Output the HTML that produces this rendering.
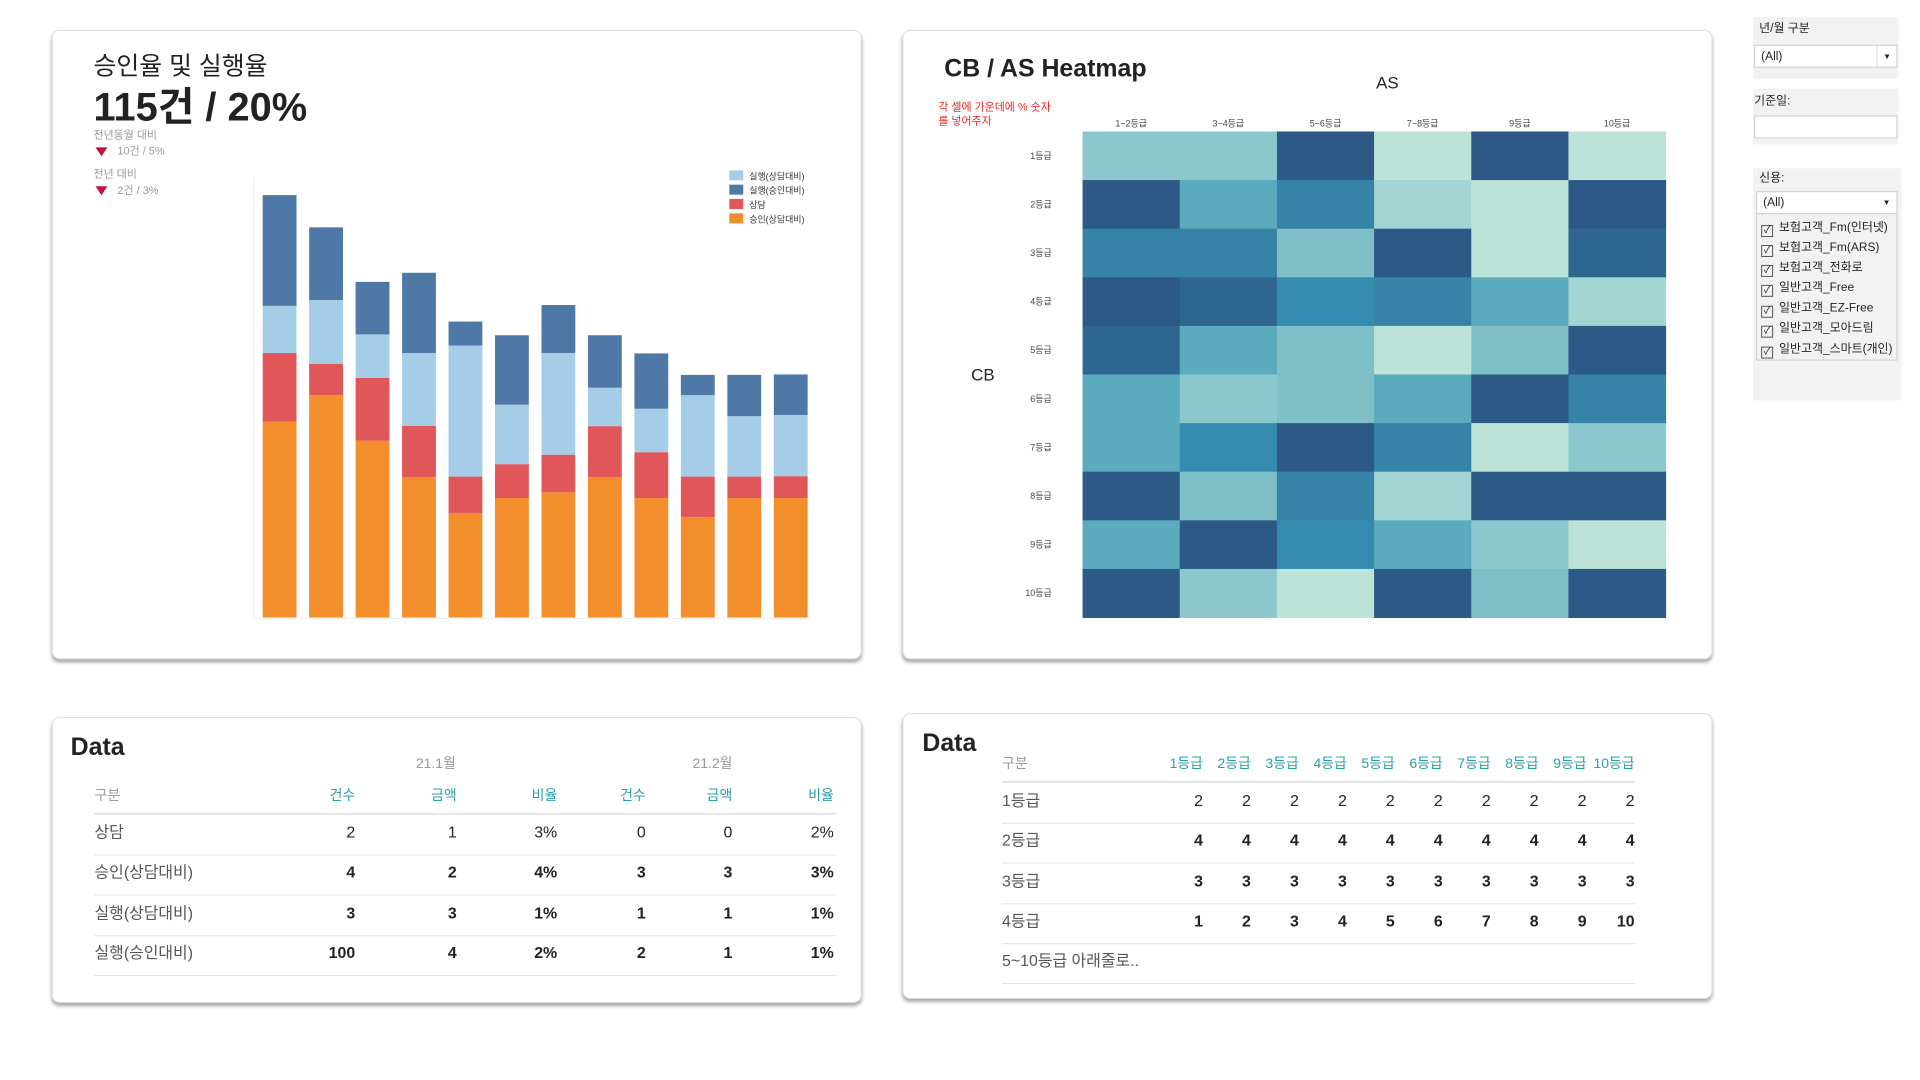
<!DOCTYPE html>
<html><head><meta charset="utf-8">
<style>
*{box-sizing:border-box;margin:0;padding:0}
body{width:1920px;height:1080px;background:#fff;position:relative;overflow:hidden;font-family:"Liberation Sans","Noto Sans CJK KR",sans-serif;color:#222}
#wrap{position:absolute;left:0;top:0;width:1920px;height:1080px;transform:scale(0.995,0.996);transform-origin:0 0}
.card{position:absolute;background:#fff;border:1px solid #ddd;border-radius:8px;box-shadow:0 3px 4px rgba(0,0,0,.35)}
.abs{position:absolute;white-space:nowrap;line-height:1.15}
.gray{color:#999}
.hl{position:absolute;height:1px;background:#e2e2e2}
.num{position:absolute;text-align:right;width:60px;font-size:16px;color:#222;line-height:1.15}
.panel{position:absolute;background:#f2f2f2;left:1762px;width:146px}
.sel{position:absolute;background:#fff;border:1px solid #ccc;font-size:12px;padding:3px 6px}
.chk{position:absolute;left:1770px;font-size:12px;color:#222;line-height:14px}
.chk span{display:inline-block;width:12px;height:12px;border:1px solid #555;margin-right:6px;vertical-align:-2px;font-size:10px;line-height:10px;text-align:center}
</style></head><body>
<div id="wrap">

<div class="card" style="left:52px;top:30px;width:814px;height:632px"></div>
<div class="abs" style="left:94px;top:53px;font-size:25px">승인율 및 실행율</div>
<div class="abs" style="left:94px;top:88px;font-size:40px;font-weight:bold;line-height:1">115건 / 20%</div>
<div class="abs gray" style="left:94px;top:130px;font-size:11px">전년동월 대비</div>
<div class="abs" style="left:96px;top:148px;width:0;height:0;border-left:6px solid transparent;border-right:6px solid transparent;border-top:9px solid #c0143c"></div>
<div class="abs gray" style="left:118px;top:146px;font-size:11px">10건 / 5%</div>
<div class="abs gray" style="left:94px;top:169px;font-size:11px">전년 대비</div>
<div class="abs" style="left:96px;top:187px;width:0;height:0;border-left:6px solid transparent;border-right:6px solid transparent;border-top:9px solid #c0143c"></div>
<div class="abs gray" style="left:118px;top:186px;font-size:11px">2건 / 3%</div>
<svg id="bars" style="position:absolute;left:0;top:0" width="870" height="660"></svg>

<div class="card" style="left:907px;top:30px;width:814px;height:632px"></div>
<div class="abs" style="left:949px;top:55px;font-size:25px;font-weight:bold">CB / AS Heatmap</div>
<div class="abs" style="left:1383px;top:74px;font-size:17px">AS</div>
<div class="abs" style="left:943px;top:101px;font-size:11px;color:#f02020;line-height:14px">각 셀에 가운데에 % 숫자<br>를 넣어주자</div>
<div class="abs" style="left:976px;top:367px;font-size:17px">CB</div>
<svg id="heat" style="position:absolute;left:0;top:0" width="1720" height="660"></svg>

<div class="card" style="left:52px;top:720px;width:814px;height:287px"></div>
<div class="abs" style="left:71px;top:736px;font-size:25px;font-weight:bold">Data</div>
<div class="abs gray" style="left:418px;top:758px;font-size:14px">21.1월</div>
<div class="abs gray" style="left:696px;top:758px;font-size:14px">21.2월</div>
<div id="t1"></div>

<div class="card" style="left:907px;top:716px;width:814px;height:287px"></div>
<div class="abs" style="left:927px;top:732px;font-size:25px;font-weight:bold">Data</div>
<div id="t2"></div>

<div class="panel" style="top:17px;height:62px"></div>
<div class="abs" style="left:1768px;top:22px;font-size:12px">년/월 구분</div>
<div class="sel" style="left:1763px;top:45px;width:144px;height:23px">(All)<span style="position:absolute;right:0;top:0;width:20px;height:21px;border-left:1px solid #ddd;text-align:center;font-size:8px;line-height:21px">▼</span></div>
<div class="panel" style="top:89px;height:56px"></div>
<div class="abs" style="left:1763px;top:95px;font-size:12px">기준일:</div>
<div class="sel" style="left:1763px;top:116px;width:144px;height:23px"></div>
<div class="panel" style="top:169px;height:233px;width:149px"></div>
<div class="abs" style="left:1768px;top:172px;font-size:12px">신용:</div>
<div class="sel" style="left:1765px;top:192px;width:142px;height:23px">(All)<span style="position:absolute;right:0;top:0;width:20px;height:21px;text-align:center;font-size:8px;line-height:21px">▼</span></div>
<div class="abs" style="left:1765px;top:214px;width:142px;height:148px;border:1px solid #ccc;border-top:none"></div>
<div class="chk" style="top:221px"><span>✓</span>보험고객_Fm(인터넷)</div>
<div class="chk" style="top:241px"><span>✓</span>보험고객_Fm(ARS)</div>
<div class="chk" style="top:261px"><span>✓</span>보험고객_전화로</div>
<div class="chk" style="top:281px"><span>✓</span>일반고객_Free</div>
<div class="chk" style="top:302px"><span>✓</span>일반고객_EZ-Free</div>
<div class="chk" style="top:322px"><span>✓</span>일반고객_모아드림</div>
<div class="chk" style="top:343px"><span>✓</span>일반고객_스마트(개인)</div>
</div>

<script>
const barCategories = ["1","2","3","4","5","6","7","8","9","10","11","12"];
const approvalVals = [47.4,53.8,42.8,34.0,25.3,28.9,30.3,34.0,28.9,24.3,28.9,28.9];
const consultVals  = [16.6,7.6,15.2,12.4,8.8,8.2,9.1,12.3,11.1,9.8,5.2,5.3];
const execConsultVals = [11.4,15.4,10.5,17.6,31.7,14.4,24.6,9.3,10.5,19.7,14.6,14.8];
const execApprovalVals = [26.8,17.6,12.7,19.4,5.8,16.8,11.6,12.7,13.4,4.9,10.0,9.8];
const seriesNames = ["실행(상담대비)","실행(승인대비)","상담","승인(상담대비)"];
const seriesColors = ["#a6cde8","#4e79a7","#e15759","#f28e2b"];

const NS="http://www.w3.org/2000/svg";
function mk(tag,attrs,parent){const e=document.createElementNS(NS,tag);for(const k in attrs)e.setAttribute(k,attrs[k]);parent.appendChild(e);return e;}

(function(){
  const svg=document.getElementById('bars');
  const x0=264, step=46.7, bw=34, base=620, unit=4.15;
  const xPos=i=>x0+i*step;
  const yLen=v=>v*unit;
  mk('line',{x1:255,y1:178,x2:255,y2:621,stroke:'#eee'},svg);
  mk('line',{x1:255,y1:621,x2:815,y2:621,stroke:'#eee'},svg);
  const stack=[approvalVals,consultVals,execConsultVals,execApprovalVals];
  const cols=["#f28e2b","#e15759","#a6cde8","#4e79a7"];
  const names=["approval","consult","exec-consult","exec-approval"];
  barCategories.forEach((c,i)=>{
    let y=base;
    stack.forEach((arr,s)=>{
      const h=yLen(arr[i]); y-=h;
      const r=mk('rect',{x:xPos(i),y:y,width:bw,height:h,fill:cols[s]},svg);
      
      
    });
  });
  seriesNames.forEach((n,k)=>{
    const g=mk('g',{},svg);
    
    
    mk('rect',{x:733,y:171+k*14.4,width:14,height:10,fill:seriesColors[k]},g);
    const t=mk('text',{x:753,y:180+k*14.4,'font-size':9,fill:'#333'},g);
    t.textContent=n;
  });
})();

const asLabels=["1~2등급","3~4등급","5~6등급","7~8등급","9등급","10등급"];
const cbLabels=["1등급","2등급","3등급","4등급","5등급","6등급","7등급","8등급","9등급","10등급"];
const heatRow1=[40,40,95,10,95,10];
const heatRow2=[95,55,75,20,10,95];
const heatRow3=[75,75,45,95,10,85];
const heatRow4=[95,85,70,75,55,20];
const heatRow5=[85,55,45,10,45,95];
const heatRow6=[55,40,45,55,95,75];
const heatRow7=[55,70,95,75,10,40];
const heatRow8=[95,45,75,20,95,95];
const heatRow9=[55,95,70,55,40,10];
const heatRow10=[95,40,10,95,45,95];
const heatValues=[heatRow1,heatRow2,heatRow3,heatRow4,heatRow5,heatRow6,heatRow7,heatRow8,heatRow9,heatRow10];

(function(){
  const svg=document.getElementById('heat');
  const stops=[[10,[189,227,216]],[20,[163,213,210]],[40,[140,199,206]],[45,[127,191,199]],[55,[90,171,189]],[70,[53,138,175]],[75,[53,131,166]],[85,[47,102,144]],[95,[44,89,133]]];
  function color(v){
    if(v<=stops[0][0])return 'rgb('+stops[0][1]+')';
    for(let i=1;i<stops.length;i++){if(v<=stops[i][0]){const a=stops[i-1],b=stops[i];const t=(v-a[0])/(b[0]-a[0]);return 'rgb('+a[1].map((c,j)=>Math.round(c+(b[1][j]-c)*t)).join(',')+')';}}
    return 'rgb('+stops[stops.length-1][1]+')';
  }
  const gx=1088, gy=132, cw=(1674-1088)/asLabels.length, ch=(620-132)/cbLabels.length;
  const xs=j=>gx+j*cw, ys=i=>gy+i*ch;
  asLabels.forEach((l,j)=>{const t=mk('text',{x:xs(j)+cw/2,y:127,'font-size':9,fill:'#444','text-anchor':'middle'},svg);t.textContent=l;
    });
  cbLabels.forEach((l,i)=>{const t=mk('text',{x:1057,y:ys(i)+ch/2+3,'font-size':9,fill:'#444','text-anchor':'end'},svg);t.textContent=l;
    });
  heatValues.forEach((row,i)=>row.forEach((v,j)=>{
    const r=mk('rect',{x:xs(j),y:ys(i),width:cw+0.5,height:ch+0.5,fill:color(v)},svg);
    
    
  }));
})();

const t1Rows=["상담","승인(상담대비)","실행(상담대비)","실행(승인대비)"];
const t1Heads=["건수","금액","비율","건수","금액","비율"];
const t1Data=[["2","1","3%","0","0","2%"],["4","2","4%","3","3","3%"],["3","3","1%","1","1","1%"],["100","4","2%","2","1","1%"]];
(function(){
  const c=document.getElementById('t1');
  const rights=[357,459,560,649,736,838];
  let h='<div class="abs gray" style="left:95px;top:790px;font-size:14px">구분</div>';
  t1Heads.forEach((t,k)=>{h+='<div class="num" style="left:'+(rights[k]-60)+'px;top:790px;font-size:14px;color:#26a0a6">'+t+'</div>';});
  h+='<div class="hl" style="left:95px;top:816px;width:745px;height:2px"></div>';
  t1Rows.forEach((r,i)=>{const y=828+i*40.3;
    h+='<div class="abs" style="left:95px;top:'+y+'px;font-size:16px;color:#555">'+r+'</div>';
    t1Data[i].forEach((v,k)=>{h+='<div class="num" style="left:'+(rights[k]-60)+'px;top:'+y+'px;'+(i>0?'font-weight:bold':'')+'">'+v+'</div>';});
    h+='<div class="hl" style="left:95px;top:'+(858+i*40.3)+'px;width:745px"></div>';
  });
  c.innerHTML=h;
})();

const t2Heads=["1등급","2등급","3등급","4등급","5등급","6등급","7등급","8등급","9등급","10등급"];
const t2Rows=["1등급","2등급","3등급","4등급"];
const t2Data=[[2,2,2,2,2,2,2,2,2,2],[4,4,4,4,4,4,4,4,4,4],[3,3,3,3,3,3,3,3,3,3],[1,2,3,4,5,6,7,8,9,10]];
(function(){
  const c=document.getElementById('t2');
  const r=k=>1209+k*48.2;
  let h='<div class="abs gray" style="left:1007px;top:758px;font-size:14px">구분</div>';
  t2Heads.forEach((t,k)=>{h+='<div class="num" style="left:'+(r(k)-60)+'px;top:758px;font-size:14px;color:#26a0a6">'+t+'</div>';});
  h+='<div class="hl" style="left:1007px;top:784px;width:636px;height:2px"></div>';
  t2Rows.forEach((lab,i)=>{const y=796+i*40.3;
    h+='<div class="abs" style="left:1007px;top:'+y+'px;font-size:16px;color:#555">'+lab+'</div>';
    t2Data[i].forEach((v,k)=>{h+='<div class="num" style="left:'+(r(k)-60)+'px;top:'+y+'px;'+(i>0?'font-weight:bold':'')+'">'+v+'</div>';});
    h+='<div class="hl" style="left:1007px;top:'+(826+i*40.3)+'px;width:636px"></div>';
  });
  h+='<div class="abs" style="left:1007px;top:957px;font-size:16px;color:#555">5~10등급 아래줄로..</div>';
  h+='<div class="hl" style="left:1007px;top:987px;width:636px"></div>';
  c.innerHTML=h;
})();
</script>
</body></html>
